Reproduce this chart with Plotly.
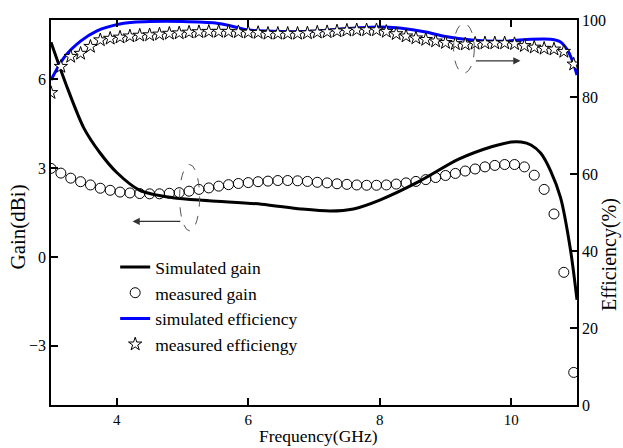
import plotly.graph_objects as go

# ---- data -------------------------------------------------------------
# simulated gain (dBi), frequency in GHz
sim_gain_freq = [3.0, 3.25, 3.5, 3.75, 4.0, 4.35, 4.85, 5.4, 6.2, 6.8, 7.25, 7.6,
                 8.0, 8.6, 9.2, 9.7, 10.0, 10.15, 10.3, 10.45, 10.6, 10.75, 10.9, 11.0]
sim_gain = [7.25, 5.7, 4.35, 3.5, 2.85, 2.25, 2.0, 1.9, 1.78, 1.62, 1.55, 1.62,
            1.92, 2.55, 3.3, 3.72, 3.88, 3.88, 3.78, 3.5, 2.9, 2.0, 0.25, -1.45]

# measurement frequencies (GHz)
meas_freq = [3.00, 3.15, 3.30, 3.45, 3.60, 3.75, 3.90, 4.05, 4.20, 4.35,
             4.50, 4.65, 4.80, 4.95, 5.10, 5.25, 5.40, 5.55, 5.70, 5.85,
             6.00, 6.15, 6.30, 6.45, 6.60, 6.75, 6.90, 7.05, 7.20, 7.35,
             7.50, 7.65, 7.80, 7.95, 8.10, 8.25, 8.40, 8.55, 8.70, 8.85,
             9.00, 9.15, 9.30, 9.45, 9.60, 9.75, 9.90, 10.05, 10.20, 10.35,
             10.50, 10.65, 10.80, 10.95]

# measured gain (dBi)
meas_gain = [2.99, 2.83, 2.66, 2.54, 2.43, 2.32, 2.25, 2.19, 2.16, 2.14,
             2.13, 2.13, 2.15, 2.17, 2.22, 2.28, 2.33, 2.39, 2.44, 2.48,
             2.51, 2.54, 2.56, 2.58, 2.58, 2.57, 2.55, 2.52, 2.50, 2.47,
             2.45, 2.43, 2.42, 2.42, 2.43, 2.46, 2.50, 2.55, 2.61, 2.68,
             2.75, 2.82, 2.90, 2.97, 3.04, 3.09, 3.12, 3.12, 3.04, 2.76,
             2.28, 1.45, -0.52, -3.90]

# simulated radiation efficiency (%)
sim_eff_freq = [3.0, 3.2, 3.45, 3.7, 4.0, 4.25, 4.5, 5.0, 5.5, 5.8, 6.0, 6.5, 7.0,
                7.5, 8.0, 8.3, 8.7, 9.0, 9.4, 9.9, 10.3, 10.6, 10.75, 10.85,
                10.93, 11.0]
sim_eff = [84.4, 90.3, 94.5, 97.2, 98.8, 99.4, 99.6, 99.6, 99.2, 98.2, 97.4,
           97.0, 97.1, 97.8, 98.2, 97.9, 96.9, 95.7, 94.8, 94.5, 95.0, 95.0,
           94.3, 92.3, 89.5, 85.7]

# measured radiation efficiency (%)
meas_eff = [81.1, 87.9, 90.5, 91.3, 93.1, 94.8, 95.2, 95.5, 95.8, 96.0,
            96.1, 96.3, 96.5, 96.6, 96.8, 96.9, 97.0, 97.0, 97.0, 96.9,
            96.8, 96.7, 96.5, 96.5, 96.5, 96.5, 96.6, 96.8, 96.9, 97.1,
            97.3, 97.4, 97.4, 97.4, 97.0, 96.4, 95.8, 95.3, 94.9, 94.5,
            94.1, 93.8, 93.7, 93.9, 94.0, 94.0, 94.0, 93.8, 93.3, 92.9,
            92.6, 92.4, 91.8, 88.5]

x_ticks = [4, 6, 8, 10]
gain_ticks = [-3, 0, 3, 6]
eff_ticks = [0, 20, 40, 60, 80, 100]

FONT = "Liberation Serif"

fig = go.Figure()

fig.add_trace(go.Scatter(
    x=sim_gain_freq, y=sim_gain, name="Simulated gain", mode="lines",
    line=dict(color="black", width=3, shape="spline", smoothing=0.8),
    yaxis="y", cliponaxis=True))

fig.add_trace(go.Scatter(
    x=meas_freq, y=meas_gain, name="measured gain", mode="markers",
    marker=dict(symbol="circle-open", size=10, color="black",
                line=dict(width=1, color="black")),
    yaxis="y", cliponaxis=True))

fig.add_trace(go.Scatter(
    x=sim_eff_freq, y=sim_eff, name="simulated efficiency", mode="lines",
    line=dict(color="#0000ff", width=3, shape="spline", smoothing=0.8),
    yaxis="y2", cliponaxis=True))

fig.add_trace(go.Scatter(
    x=meas_freq, y=meas_eff, name="measured efficiengy", mode="markers",
    marker=dict(symbol="star", size=10, color="white",
                line=dict(width=1, color="black")),
    yaxis="y2", cliponaxis=True))

axis_common = dict(
    showline=True, linecolor="black", linewidth=1.5,
    ticks="inside", ticklen=7, tickwidth=1.5, tickcolor="black",
    showgrid=False, zeroline=False,
    tickfont=dict(family=FONT, size=16, color="black"),
)

fig.update_layout(
    width=623, height=448,
    margin=dict(l=51, r=46, t=20, b=43),
    paper_bgcolor="white", plot_bgcolor="white",
    font=dict(family=FONT, color="black"),
    xaxis=dict(range=[3, 11], tickvals=x_ticks, mirror="ticks", **axis_common),
    yaxis=dict(range=[-5, 8], tickvals=gain_ticks, **axis_common),
    yaxis2=dict(range=[0, 100], tickvals=eff_ticks, overlaying="y", side="right",
                **axis_common),
    showlegend=True,
    legend=dict(x=0.122, y=0.405, xanchor="left", yanchor="top",
                bgcolor="rgba(0,0,0,0)", borderwidth=0,
                font=dict(family=FONT, size=17.5, color="black"),
                tracegroupgap=0, itemwidth=30),
)
fig.update_xaxes(tickfont=dict(family=FONT, size=15, color="black"))

# dashed ellipses marking which curves belong to which axis
fig.add_shape(type="circle", xref="x", yref="y", x0=4.956, x1=5.26, y0=0.88, y1=3.12,
              line=dict(color="#555555", width=1, dash="dash"))
fig.add_shape(type="circle", xref="x", yref="y2", x0=9.123, x1=9.438, y0=86.2, y1=99.1,
              line=dict(color="#555555", width=1, dash="dash"))

# arrows pointing to the corresponding axis
fig.add_annotation(x=4.24, y=1.2, ax=4.99, ay=1.2, xref="x", yref="y",
                   axref="x", ayref="y", showarrow=True, text="",
                   arrowhead=2, arrowsize=1.2, arrowwidth=1.2, arrowcolor="#333333")
fig.add_annotation(x=10.14, y=89.4, ax=9.44, ay=89.4, xref="x", yref="y2",
                   axref="x", ayref="y2", showarrow=True, text="",
                   arrowhead=2, arrowsize=1.2, arrowwidth=1.2, arrowcolor="#333333")

# axis titles
fig.add_annotation(text="Frequency(GHz)", xref="paper", yref="paper", x=0.508, y=-0.1105,
                   showarrow=False, xanchor="center", yanchor="bottom",
                   font=dict(family=FONT, size=17.5, color="black"))
fig.add_annotation(text="Gain(dBi)", xref="paper", yref="paper", x=-0.062, y=0.462,
                   showarrow=False, textangle=-90, xanchor="center", yanchor="middle",
                   font=dict(family=FONT, size=21, color="black"))
fig.add_annotation(text="Efficiency(%)", xref="paper", yref="paper", x=1.063, y=0.39,
                   showarrow=False, textangle=-90, xanchor="center", yanchor="middle",
                   font=dict(family=FONT, size=20, color="black"))

fig.write_html("out.html")
